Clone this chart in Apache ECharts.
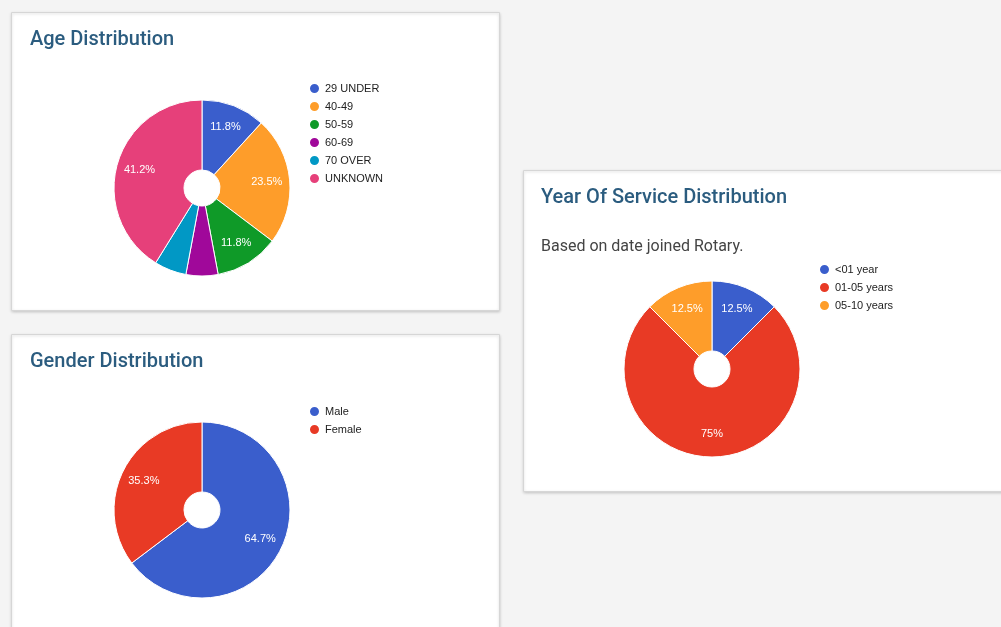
<!DOCTYPE html>
<html>
<head>
<meta charset="utf-8">
<script src="https://cdn.jsdelivr.net/npm/echarts@6/dist/echarts.min.js"></script>
<style>
  html, body { margin: 0; padding: 0; background: #f4f4f4; }
  #main { width: 1001px; height: 627px; }
</style>
</head>
<body>
<div id="main"></div>
<script>
// age
const ageNames = ["29 UNDER", "40-49", "50-59", "60-69", "70 OVER", "UNKNOWN"];
const ageValues = [2, 4, 2, 1, 1, 7];
const ageColors = ["#3a5ecc", "#fe9d2a", "#0f9a28", "#a0089a", "#0198c5", "#e6407a"];

// gender
const genderNames = ["Male", "Female"];
const genderValues = [11, 6];
const genderColors = ["#3a5ecc", "#e83a25"];

// year of service
const serviceNames = ["<01 year", "01-05 years", "05-10 years"];
const serviceValues = [1, 6, 1];
const serviceColors = ["#3a5ecc", "#e83a25", "#fe9d2a"];

const chart = echarts.init(document.getElementById("main"));

function toData(names, values) {
  return names.map((n, i) => ({ name: n, value: values[i] }));
}

// slice pie + a transparent copy that only carries the labels
function pieSeries(names, values, colors, center) {
  const total = values.reduce((a, b) => a + b, 0);
  return [
    {
      type: "pie",
      center: center,
      radius: [18, 88],
      startAngle: 90,
      clockwise: true,
      color: colors,
      itemStyle: { borderColor: "#fff", borderWidth: 1 },
      label: { show: false },
      labelLine: { show: false },
      emphasis: { disabled: true },
      data: toData(names, values),
    },
    {
      type: "pie",
      center: center,
      radius: [36, 88],
      startAngle: 90,
      silent: true,
      itemStyle: { color: "rgba(0,0,0,0)" },
      label: {
        show: true,
        position: "inside",
        color: "#fff",
        fontSize: 11,
        fontFamily: "Liberation Sans, Arial",
        formatter(p) {
          const pct = (p.value / total) * 100;
          if (pct < 8) return "";
          return parseFloat(pct.toFixed(1)) + "%";
        },
      },
      labelLine: { show: false },
      emphasis: { disabled: true },
      data: toData(names, values),
    },
  ];
}

function legend(names, left, top) {
  return {
    data: names,
    orient: "vertical",
    left: left,
    top: top,
    padding: 0,
    icon: "circle",
    itemWidth: 11,
    itemHeight: 11,
    itemGap: 5,
    selectedMode: false,
    textStyle: { fontSize: 11, color: "#222", fontFamily: "Liberation Sans, Arial" },
  };
}

const titleStyle = { fontSize: 20, fontWeight: 500, color: "#2b5c7f", fontFamily: "Roboto" };

function card(x, y, w, h) {
  return {
    type: "rect",
    shape: { x: x, y: y, width: w, height: h },
    style: {
      fill: "#fff",
      stroke: "#d6d6d6",
      lineWidth: 1,
      shadowBlur: 3,
      shadowColor: "rgba(0,0,0,0.18)",
      shadowOffsetY: 1,
    },
    z: -10,
  };
}

chart.setOption({
  backgroundColor: "#f4f4f4",
  animation: false,
  graphic: [
    card(11.5, 12.5, 488, 298),
    card(11.5, 334.5, 488, 310),
    card(523.5, 170.5, 500, 321),
  ],
  title: [
    { text: "Age Distribution", left: 30, top: 30, padding: 0, textStyle: titleStyle },
    { text: "Gender Distribution", left: 30, top: 352, padding: 0, textStyle: titleStyle },
    { text: "Year Of Service Distribution", left: 541, top: 188, padding: 0, textStyle: titleStyle },
    {
      text: "Based on date joined Rotary.",
      left: 541,
      top: 239,
      padding: 0,
      textStyle: { fontSize: 16, fontWeight: 400, color: "#444", fontFamily: "Roboto" },
    },
  ],
  legend: [
    legend(ageNames, 308, 82),
    legend(genderNames, 308, 405),
    legend(serviceNames, 818, 263),
  ],
  series: [
    ...pieSeries(ageNames, ageValues, ageColors, [202, 188]),
    ...pieSeries(genderNames, genderValues, genderColors, [202, 510]),
    ...pieSeries(serviceNames, serviceValues, serviceColors, [712, 369]),
  ],
});
</script>
</body>
</html>
